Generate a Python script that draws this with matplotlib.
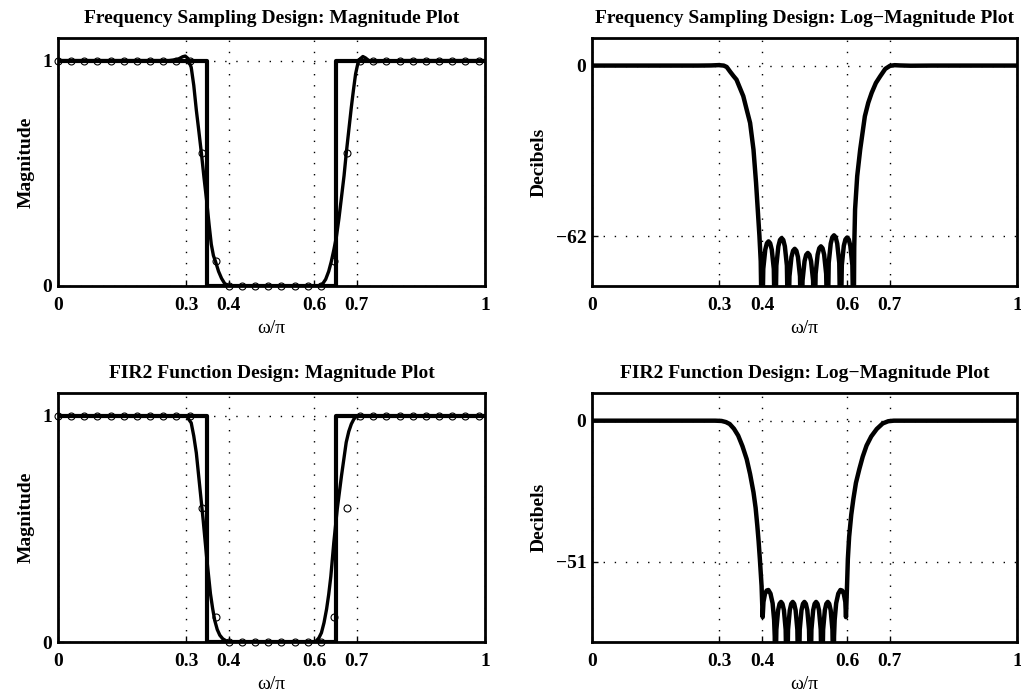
import matplotlib
matplotlib.use('Agg')
from matplotlib import pyplot as plt

plt.rcParams['font.family'] = ['Liberation Serif', 'DejaVu Serif']
plt.rcParams['font.weight'] = 'bold'
plt.rcParams['font.size'] = 14

# frequency samples (w/pi) and their values, same for both designs
sample_w = [0, 0.031, 0.062, 0.092, 0.123, 0.154, 0.185, 0.215, 0.246, 0.277, 0.308,
            0.338, 0.369, 0.4, 0.431, 0.462, 0.492, 0.523, 0.554, 0.585, 0.615,
            0.646, 0.677, 0.708, 0.738, 0.769, 0.8, 0.831, 0.862, 0.892, 0.923, 0.954, 0.985]
sample_h = [1, 1, 1, 1, 1, 1, 1, 1, 1, 1, 1,
            0.59, 0.11, 0, 0, 0, 0, 0, 0, 0, 0,
            0.11, 0.59, 1, 1, 1, 1, 1, 1, 1, 1, 1, 1]

# ideal bandstop response
ideal_w = [0, 0.35, 0.35, 0.65, 0.65, 1]
ideal_h = [1, 1, 0, 0, 1, 1]

# frequency sampling design, magnitude
fs_mag_w = [0, 0.1, 0.2, 0.26, 0.28, 0.292, 0.298, 0.304, 0.312, 0.318,
            0.324, 0.330, 0.336, 0.342, 0.348, 0.354, 0.359, 0.364, 0.369, 0.376,
            0.383, 0.390, 0.399, 0.45, 0.5, 0.55, 0.6, 0.613, 0.620, 0.627,
            0.634, 0.640, 0.646, 0.652, 0.658, 0.664, 0.670, 0.675, 0.681, 0.687,
            0.692, 0.697, 0.702, 0.708, 0.714, 0.720, 0.728, 0.740, 0.760, 0.8, 1.0]
fs_mag = [1, 1, 1, 1, 1.005, 1.017, 1.02, 1.01, 0.97, 0.89,
          0.78, 0.685, 0.587, 0.48, 0.381, 0.27, 0.185, 0.135, 0.108, 0.065,
          0.034, 0.012, 0, 0, 0, 0, 0, 0, 0.01, 0.03,
          0.065, 0.108, 0.16, 0.218, 0.30, 0.395, 0.49, 0.587, 0.69, 0.793,
          0.87, 0.941, 0.985, 1.008, 1.018, 1.012, 1.0, 0.995, 0.997, 1.0, 1.0]

# frequency sampling design, decibels
fs_db_w = ([0, 0.1, 0.2, 0.25, 0.28, 0.298, 0.310, 0.317, 0.325, 0.333,
            0.340, 0.348, 0.356, 0.364, 0.372, 0.380, 0.386, 0.390, 0.394, 0.397, 0.400]
           + [0.403, 0.4077, 0.4115, 0.4154, 0.4193, 0.423, 0.4278, 0.4308]
           + [0.4338, 0.4385, 0.4423, 0.4462, 0.4501, 0.4538, 0.4586, 0.4616]
           + [0.4646, 0.4693, 0.4731, 0.477, 0.4809, 0.4846, 0.4894, 0.4924]
           + [0.4954, 0.5001, 0.5039, 0.5078, 0.5117, 0.5154, 0.5202, 0.5232]
           + [0.5262, 0.5309, 0.5347, 0.5386, 0.5425, 0.5462, 0.551, 0.554]
           + [0.557, 0.5617, 0.5655, 0.5694, 0.5733, 0.577, 0.5818, 0.5848]
           + [0.5878, 0.5925, 0.5963, 0.6002, 0.6041, 0.6078, 0.6126, 0.6156]
           + [0.617, 0.619, 0.624, 0.631, 0.642, 0.650, 0.658, 0.668, 0.678, 0.690,
              0.701, 0.712, 0.725, 0.75, 0.8, 0.9, 1.0])
fs_db = ([0, 0, 0, 0, 0.05, 0.17, 0.0, -0.5, -2.2, -3.8,
          -5.1, -8.1, -11.1, -16.0, -20.8, -30.5, -42.5, -52.2, -61.9, -71, -100]
         + [-73.8, -66.8, -64.5, -63.8, -64.5, -66.8, -73.8, -100]
         + [-72.6, -65.6, -63.3, -62.6, -63.3, -65.6, -72.6, -100]
         + [-76.5, -69.5, -67.2, -66.5, -67.2, -69.5, -76.5, -100]
         + [-78.0, -71.0, -68.7, -68.0, -68.7, -71.0, -78.0, -100]
         + [-75.6, -68.6, -66.3, -65.6, -66.3, -68.6, -75.6, -100]
         + [-71.6, -64.6, -62.3, -61.6, -62.3, -64.6, -71.6, -100]
         + [-72.4, -65.4, -63.1, -62.4, -63.1, -65.4, -72.4, -100]
         + [-66, -52.2, -40.1, -30.5, -18.4, -13.5, -9.9, -6.3, -3.9, -1.2,
            -0.1, 0.15, 0.05, -0.05, 0, 0, 0])

# fir2 design, magnitude
fir2_mag_w = [0, 0.1, 0.2, 0.29, 0.301, 0.312, 0.318, 0.324, 0.332, 0.340,
              0.348, 0.357, 0.362, 0.367, 0.373, 0.379, 0.386, 0.394, 0.400, 0.5,
              0.600, 0.605, 0.611, 0.617, 0.623, 0.629, 0.634, 0.639, 0.646, 0.654,
              0.664, 0.675, 0.681, 0.687, 0.693, 0.699, 0.710, 0.8, 1.0]
fir2_mag = [1, 1, 1, 1, 0.998, 0.968, 0.91, 0.835, 0.687, 0.539,
            0.377, 0.214, 0.15, 0.096, 0.055, 0.030, 0.014, 0.005, 0, 0,
            0, 0.005, 0.018, 0.041, 0.085, 0.145, 0.21, 0.29, 0.44, 0.587,
            0.735, 0.882, 0.93, 0.963, 0.985, 0.997, 1.0, 1.0, 1.0]

# fir2 design, decibels
fir2_db_w = ([0, 0.1, 0.2, 0.29, 0.305, 0.315, 0.324, 0.334, 0.344, 0.354,
              0.364, 0.372, 0.380, 0.385, 0.389, 0.392, 0.395, 0.399, 0.4016, 0.4035,
              0.407, 0.411, 0.415, 0.420, 0.425, 0.4285, 0.430, 0.431]
             + [0.4338, 0.4379, 0.4413, 0.4448, 0.4482, 0.4516, 0.4557, 0.4585]
             + [0.4613, 0.4654, 0.4688, 0.4723, 0.4757, 0.4791, 0.4832, 0.486]
             + [0.4888, 0.4929, 0.4963, 0.4998, 0.5032, 0.5066, 0.5107, 0.5135]
             + [0.5163, 0.5204, 0.5238, 0.5273, 0.5307, 0.5341, 0.5382, 0.541]
             + [0.5438, 0.5479, 0.5513, 0.5548, 0.5582, 0.5616, 0.5657, 0.5685]
             + [0.5695, 0.571, 0.5745, 0.5795, 0.5845, 0.5885, 0.5925, 0.596, 0.5976, 0.600,
                0.602, 0.605, 0.610, 0.615, 0.621, 0.629, 0.637, 0.646, 0.657, 0.670,
                0.684, 0.697, 0.71, 0.8, 1.0])
fir2_db = ([0, 0, 0, 0, -0.1, -0.5, -1.2, -2.9, -5.4, -9.2,
            -13.9, -19.3, -25.9, -31.5, -38.0, -43.5, -50, -59.7, -71, -65.5,
            -62.6, -61.4, -61.2, -62.5, -66, -72, -78, -100]
           + [-75.5, -68.5, -66.2, -65.5, -66.2, -68.5, -75.5, -100] * 5
           + [-78, -72, -66, -62.5, -61.2, -61.4, -62.6, -65.5, -71, -60,
              -50, -42, -34, -28.3, -22.5, -17.5, -13, -9.0, -5.7, -3.0,
              -1.0, -0.2, 0, 0, 0])

xticks = [0, 0.3, 0.4, 0.6, 0.7, 1]
xticklabels = ['0', '0.3', '0.4', '0.6', '0.7', '1']


def setup(ax, title, ylabel, yticks, yticklabels, ylim):
    ax.set_xlim(0, 1)
    ax.set_ylim(*ylim)
    ax.set_xticks(xticks)
    ax.set_xticklabels(xticklabels)
    ax.set_yticks(yticks)
    ax.set_yticklabels(yticklabels)
    ax.tick_params(direction='in', length=4, width=1, pad=8)
    ax.tick_params(axis='y', pad=4)
    ax.grid(True, color='k', linestyle=(0, (1, 7)), linewidth=1)
    ax.set_axisbelow(True)
    for s in ax.spines.values():
        s.set_linewidth(2)
    ax.set_title(title, fontsize=14, fontweight='bold', pad=11)
    ax.set_ylabel(ylabel, fontsize=14, fontweight='bold', labelpad=6)
    ax.set_xlabel('\u03c9/\u03c0', fontsize=14, fontweight='normal', labelpad=4)


fig = plt.figure(figsize=(10.21, 6.94), dpi=100)
ax1 = fig.add_axes([0.0568, 0.5879, 0.4182, 0.3573])
ax2 = fig.add_axes([0.5798, 0.5879, 0.4163, 0.3573])
ax3 = fig.add_axes([0.0568, 0.0749, 0.4182, 0.3588])
ax4 = fig.add_axes([0.5798, 0.0749, 0.4163, 0.3588])

for ax, w, h in [(ax1, fs_mag_w, fs_mag), (ax3, fir2_mag_w, fir2_mag)]:
    ax.plot(ideal_w, ideal_h, color='k', lw=3)
    ax.plot(w, h, color='k', lw=2.4)
    ax.plot(sample_w, sample_h, 'o', mfc='none', mec='k', ms=5, mew=0.8, clip_on=False)

ax2.plot(fs_db_w, fs_db, color='k', lw=3.2)
ax4.plot(fir2_db_w, fir2_db, color='k', lw=3.2)

setup(ax1, 'Frequency Sampling Design: Magnitude Plot', 'Magnitude', [0, 1], ['0', '1'], (0, 1.1))
setup(ax2, 'Frequency Sampling Design: Log\u2212Magnitude Plot', 'Decibels', [-62, 0], ['\u221262', '0'], (-80, 10))
setup(ax3, 'FIR2 Function Design: Magnitude Plot', 'Magnitude', [0, 1], ['0', '1'], (0, 1.1))
setup(ax4, 'FIR2 Function Design: Log\u2212Magnitude Plot', 'Decibels', [-51, 0], ['\u221251', '0'], (-80, 10))

fig.savefig('out.png', dpi=100)
